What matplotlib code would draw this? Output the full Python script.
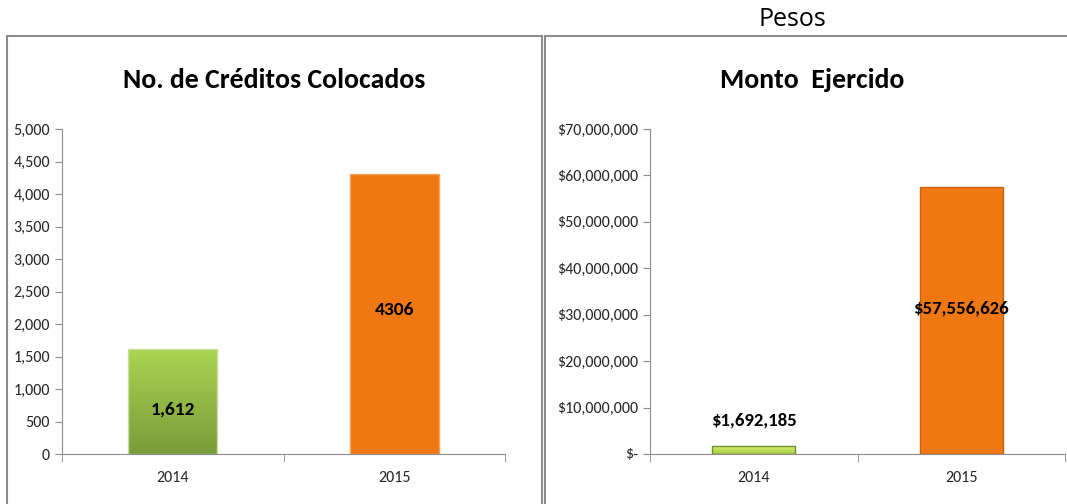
import matplotlib.pyplot as plt
import numpy as np
from matplotlib.colors import to_rgb
from matplotlib.patches import Rectangle
from matplotlib.ticker import FuncFormatter

plt.rcParams['font.family'] = ['Carlito', 'DejaVu Sans']

years = ["2014", "2015"]
creditos = [1612, 4306]
creditos_labels = ["1,612", "4306"]
monto = [1692185, 57556626]
monto_labels = ["$1,692,185", "$57,556,626"]

W, H = 1067, 504
fig = plt.figure(figsize=(W / 100, H / 100), dpi=100)


# panel borders, given in pixels from the top-left corner
def frame(x0, y0, x1, y1):
    fig.patches.append(Rectangle((x0 / W, 1 - y1 / H), (x1 - x0) / W, (y1 - y0) / H,
                                 transform=fig.transFigure, fill=False,
                                 edgecolor="#8c8c8c", linewidth=1.5))


frame(7, 36, 542, 510)
frame(545, 36, 1072, 510)

fig.text(792 / W, 1 - 20 / H, "Pesos", ha="center", va="center",
         fontsize=18, family=["Open Sans", "DejaVu Sans"])


def axes_px(x0, y0, x1, y1):
    return fig.add_axes([x0 / W, 1 - y1 / H, (x1 - x0) / W, (y1 - y0) / H])


def gradient_bar(ax, bar, top, bottom):
    x, y = bar.get_x(), bar.get_y()
    w, h = bar.get_width(), bar.get_height()
    grad = np.linspace(0, 1, 100).reshape(-1, 1)
    c0, c1 = np.array(to_rgb(top)), np.array(to_rgb(bottom))
    img = c0 + (c1 - c0) * grad[..., None]
    im = ax.imshow(img, extent=[x, x + w, y, y + h], aspect="auto",
                   origin="upper", zorder=2)
    im.set_clip_path(bar)


def style(ax, ymax, step):
    ax.set_xlim(-0.5, 1.5)
    ax.set_ylim(0, ymax)
    ax.set_yticks(np.arange(0, ymax + 1, step))
    for s in ["top", "right"]:
        ax.spines[s].set_visible(False)
    ax.spines["left"].set_color("#8c8c8c")
    ax.spines["bottom"].set_color("#8c8c8c")
    ax.tick_params(axis="both", colors="#8c8c8c", labelcolor="#262626",
                   labelsize=11.5, length=5)
    ax.tick_params(axis="x", length=0, pad=12)
    # separator ticks between categories
    ax.set_xticks([-0.5, 0.5, 1.5], minor=True)
    ax.tick_params(axis="x", which="minor", length=6, colors="#8c8c8c")


# left chart
ax1 = axes_px(62, 129, 505, 454)
bars1 = ax1.bar(years, creditos, width=0.4, color="#93bf44",
                edgecolor="#c6df9c", linewidth=1, zorder=3)
gradient_bar(ax1, bars1[0], "#aad552", "#7a9b3a")
bars1[0].set_facecolor("none")
bars1[1].set_facecolor("#f07812")
bars1[1].set_edgecolor("#f5a35a")
style(ax1, 5000, 500)
ax1.yaxis.set_major_formatter(FuncFormatter(lambda v, p: f"{int(v):,}"))
ax1.text(0, 680, creditos_labels[0], ha="center", va="center",
         fontsize=14, fontweight="bold", zorder=5)
ax1.text(1, 2215, creditos_labels[1], ha="center", va="center",
         fontsize=14, fontweight="bold", zorder=5)
fig.text(274 / W, 1 - 80 / H, "No. de Créditos Colocados", ha="center",
         va="center", fontsize=20, fontweight="bold")

# right chart
ax2 = axes_px(650, 129, 1065, 454)
bars2 = ax2.bar(years, monto, width=0.4, color="#93bf44",
                edgecolor="#6f8f2c", linewidth=1, zorder=3)
gradient_bar(ax2, bars2[0], "#d6ee6c", "#a6cc48")
bars2[0].set_facecolor("none")
bars2[1].set_facecolor("#f07812")
bars2[1].set_edgecolor("#c86010")
style(ax2, 70000000, 10000000)
ax2.yaxis.set_major_formatter(
    FuncFormatter(lambda v, p: "$-" if v == 0 else f"${int(v):,}"))
ax2.text(0, 7300000, monto_labels[0], ha="center", va="center",
         fontsize=13.5, fontweight="bold", zorder=5)
ax2.text(1, 31400000, monto_labels[1], ha="center", va="center",
         fontsize=13.5, fontweight="bold", zorder=5)
fig.text(812 / W, 1 - 80 / H, "Monto  Ejercido", ha="center",
         va="center", fontsize=20, fontweight="bold")

fig.savefig("out.png", dpi=100)
